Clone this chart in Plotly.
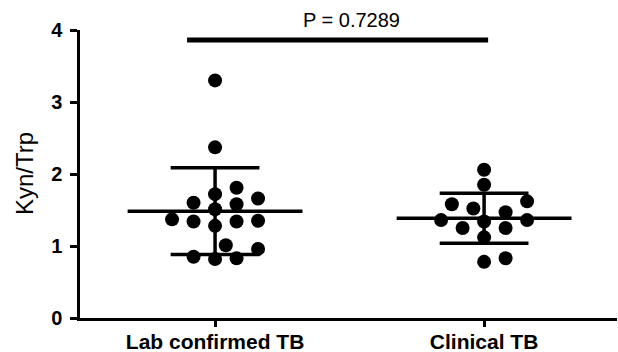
import numpy as np
import plotly.graph_objects as go

# ---- data ----
categories = ["Lab confirmed TB", "Clinical TB"]
lab_confirmed = [3.30, 2.37, 1.81, 1.66, 1.58, 1.60, 1.72, 1.51, 1.35, 1.34,
                 1.28, 1.34, 1.37, 1.01, 0.96, 0.85, 0.82, 0.83]
clinical = [2.06, 1.85, 1.58, 1.62, 1.47, 1.52, 1.36, 1.34, 1.36, 1.25,
            1.25, 1.12, 0.78, 0.83]
y_ticks = [0, 1, 2, 3, 4]
y_title = "Kyn/Trp"
p_text = "P = 0.7289"
p_value_y = 3.86
p_span = [-0.104, 1.015]

groups = [lab_confirmed, clinical]

# ---- layout constants ----
W, H = 618, 352
ML, MR, MT, MB = 80, 1, 30, 34
XR = [-0.502, 1.494]
YR = [0, 4]
px_per_x = (W - ML - MR) / (XR[1] - XR[0])
px_per_y = (H - MT - MB) / (YR[1] - YR[0])
FONT = "Liberation Sans, Arial, Helvetica, sans-serif"


def swarm(values, step=10.75, wx=21.5, wy=14.0):
    """Simple grid beeswarm in pixel space; returns x offsets in data units."""
    placed = []
    offs = [0.0] * len(values)
    order = sorted(range(len(values)), key=lambda i: values[i])
    cands = [0] + [s * m for m in range(1, 40) for s in (1, -1)]
    for i in order:
        y = values[i] * px_per_y
        chosen = 0
        for k in cands:
            ok = True
            for kk, yy in placed:
                dx = (k - kk) * step
                dy = y - yy
                if (dx / wx) ** 2 + (dy / wy) ** 2 < 1 - 1e-9:
                    ok = False
                    break
            if ok:
                chosen = k
                break
        placed.append((chosen, y))
        offs[i] = chosen * step / px_per_x
    return offs


fig = go.Figure()
shapes = []
mean_half = 0.325
cap_half = 0.165

for gi, vals in enumerate(groups):
    offs = swarm(vals)
    xs = [gi + o for o in offs]
    fig.add_trace(go.Scatter(
        x=xs, y=vals, mode="markers",
        marker=dict(size=14, color="black", line=dict(width=0)),
        showlegend=False, hoverinfo="y", cliponaxis=False,
    ))
    m = float(np.mean(vals))
    sd = float(np.std(vals, ddof=1))
    shapes.append(dict(type="line", xref="x", yref="y",
                       x0=gi - mean_half, x1=gi + mean_half, y0=m, y1=m,
                       line=dict(color="black", width=3.5)))
    shapes.append(dict(type="line", xref="x", yref="y",
                       x0=gi, x1=gi, y0=m - sd, y1=m + sd,
                       line=dict(color="black", width=3.5)))
    for yv in (m - sd, m + sd):
        shapes.append(dict(type="line", xref="x", yref="y",
                           x0=gi - cap_half, x1=gi + cap_half, y0=yv, y1=yv,
                           line=dict(color="black", width=3.5)))

shapes.append(dict(type="line", xref="x", yref="y",
                   x0=p_span[0], x1=p_span[1], y0=p_value_y, y1=p_value_y,
                   line=dict(color="black", width=5)))

plot_w = W - ML - MR
fig.update_layout(
    width=W, height=H,
    margin=dict(l=ML, r=MR, t=MT, b=MB, autoexpand=False),
    paper_bgcolor="white", plot_bgcolor="white",
    shapes=shapes,
    font=dict(family=FONT, color="black"),
    annotations=[
        dict(x=0.507, y=(4.14 - YR[0]) / (YR[1] - YR[0]), xref="x", yref="paper",
             text=p_text, showarrow=False,
             font=dict(family=FONT, size=20, color="black"),
             xanchor="center", yanchor="middle"),
        dict(x=(24 - ML) / plot_w, y=0.5, xref="paper", yref="paper",
             text=y_title, textangle=-90, showarrow=False,
             font=dict(family=FONT, size=24, color="black"),
             xanchor="center", yanchor="middle"),
    ],
)

fig.update_xaxes(
    range=XR, tickvals=[0, 1], ticktext=categories, automargin=False,
    showline=True, linecolor="black", linewidth=2.5,
    ticks="outside", ticklen=6, tickwidth=2.5, tickcolor="black",
    showgrid=False, zeroline=False, ticklabelstandoff=-3,
    tickfont=dict(family=FONT, size=21, color="black", weight="bold"),
)
fig.update_yaxes(
    range=YR, tickvals=y_ticks, automargin=False,
    showline=True, linecolor="black", linewidth=2.5,
    ticks="outside", ticklen=7, tickwidth=2.5, tickcolor="black",
    showgrid=False, zeroline=False, ticklabelstandoff=4,
    tickfont=dict(family=FONT, size=20, color="black", weight="bold"),
)

fig.write_html(
    "out.html",
    config={"displayModeBar": False},
    post_script="document.body.style.margin='0';document.body.style.overflow='hidden';",
)
